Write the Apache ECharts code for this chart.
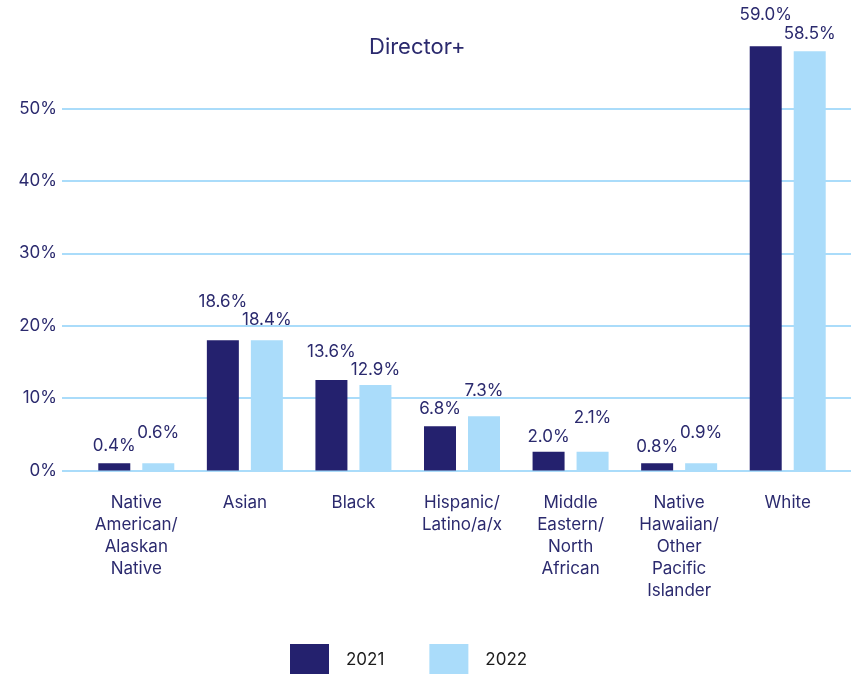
<!DOCTYPE html>
<html>
<head>
<meta charset="utf-8">
<script src="https://cdn.jsdelivr.net/npm/echarts@6/dist/echarts.min.js"></script>
<style>
  html, body { margin: 0; padding: 0; background: #fff; }
  #chart { width: 856px; height: 674px; }
</style>
</head>
<body>
<div id="chart"></div>
<script>
'use strict';

const categories = [
  'Native\nAmerican/\nAlaskan\nNative',
  'Asian',
  'Black',
  'Hispanic/\nLatino/a/x',
  'Middle\nEastern/\nNorth\nAfrican',
  'Native\nHawaiian/\nOther\nPacific\nIslander',
  'White',
];

// bar heights as drawn (percent)
const values2021 = [1.0, 18.0, 12.5, 6.1, 2.6, 1.0, 58.6];
const values2022 = [1.0, 18.0, 11.8, 7.5, 2.6, 1.0, 57.9];

// label texts as printed on the chart
const labels2021 = ['0.4%', '18.6%', '13.6%', '6.8%', '2.0%', '0.8%', '59.0%'];
const labels2022 = ['0.6%', '18.4%', '12.9%', '7.3%', '2.1%', '0.9%', '58.5%'];

const yTicks = [0, 10, 20, 30, 40, 50];

// how far each value label sits above its bar (px)
const lift2021 = [9, 30, 20, 9, 6, 8, 23];
const lift2022 = [22, 12, 7, 17, 25, 22, 9];

const NAVY = '#24216e';
const SKY = '#aadcfa';
const TEXT = '#2b2a6e';
const FONT = 'Inter, "Noto Sans", sans-serif';

// 0% sits at y=470.5, 7.24px per percentage point
const ZERO_Y = 470.5;
const PX = 7.24;

function seriesData(values, labels, lifts) {
  return values.map((v, i) => ({
    value: v,
    label: { formatter: labels[i], distance: lifts[i] },
  }));
}

const chart = echarts.init(document.getElementById('chart'), null, { renderer: 'canvas' });

chart.setOption({
  animation: false,
  backgroundColor: '#fff',
  title: {
    text: 'Director+',
    left: 369,
    top: 36,
    padding: 0,
    textStyle: { color: TEXT, fontFamily: FONT, fontSize: 22, fontWeight: 'normal' },
  },
  legend: {
    data: ['2021', '2022'],
    left: 290,
    top: 644,
    padding: 0,
    itemWidth: 39,
    itemHeight: 32,
    itemGap: 45,
    icon: 'rect',
    textStyle: { color: '#1c1c1c', fontFamily: FONT, fontSize: 17, padding: [0, 0, 0, 12] },
  },
  grid: [
    // gridlines + y labels
    { left: 62, right: 5, top: ZERO_Y - 50 * PX, bottom: 674 - ZERO_Y },
    // bars
    { left: 82, right: 14, top: ZERO_Y - 60 * PX, bottom: 674 - ZERO_Y },
  ],
  xAxis: [
    { gridIndex: 0, type: 'category', data: ['a'], show: false },
    {
      gridIndex: 1,
      type: 'category',
      data: categories,
      axisLine: { show: false },
      axisTick: { show: false },
      axisLabel: {
        color: TEXT,
        fontFamily: FONT,
        fontSize: 17,
        lineHeight: 22,
        margin: 21,
        interval: 0,
        align: 'center',
      },
    },
  ],
  yAxis: [
    {
      gridIndex: 0,
      type: 'value',
      min: yTicks[0],
      max: yTicks[yTicks.length - 1],
      interval: 10,
      axisLine: { show: false },
      axisTick: { show: false },
      axisLabel: {
        color: TEXT,
        fontFamily: FONT,
        fontSize: 17,
        margin: 5,
        formatter: '{value}%',
      },
      splitLine: { lineStyle: { color: SKY, width: 2 } },
    },
    {
      gridIndex: 1,
      type: 'value',
      min: 0,
      max: 60,
      interval: 10,
      show: false,
    },
  ],
  series: [
    {
      name: '2021',
      type: 'bar',
      xAxisIndex: 1,
      yAxisIndex: 1,
      barWidth: 32,
      barGap: '37.5%',
      itemStyle: { color: NAVY },
      label: { show: true, position: 'top', color: TEXT, fontFamily: FONT, fontSize: 17 },
      data: seriesData(values2021, labels2021, lift2021),
    },
    {
      name: '2022',
      type: 'bar',
      xAxisIndex: 1,
      yAxisIndex: 1,
      barWidth: 32,
      barGap: '37.5%',
      itemStyle: { color: SKY },
      label: { show: true, position: 'top', color: TEXT, fontFamily: FONT, fontSize: 17 },
      data: seriesData(values2022, labels2022, lift2022),
    },
  ],
});
</script>
</body>
</html>
